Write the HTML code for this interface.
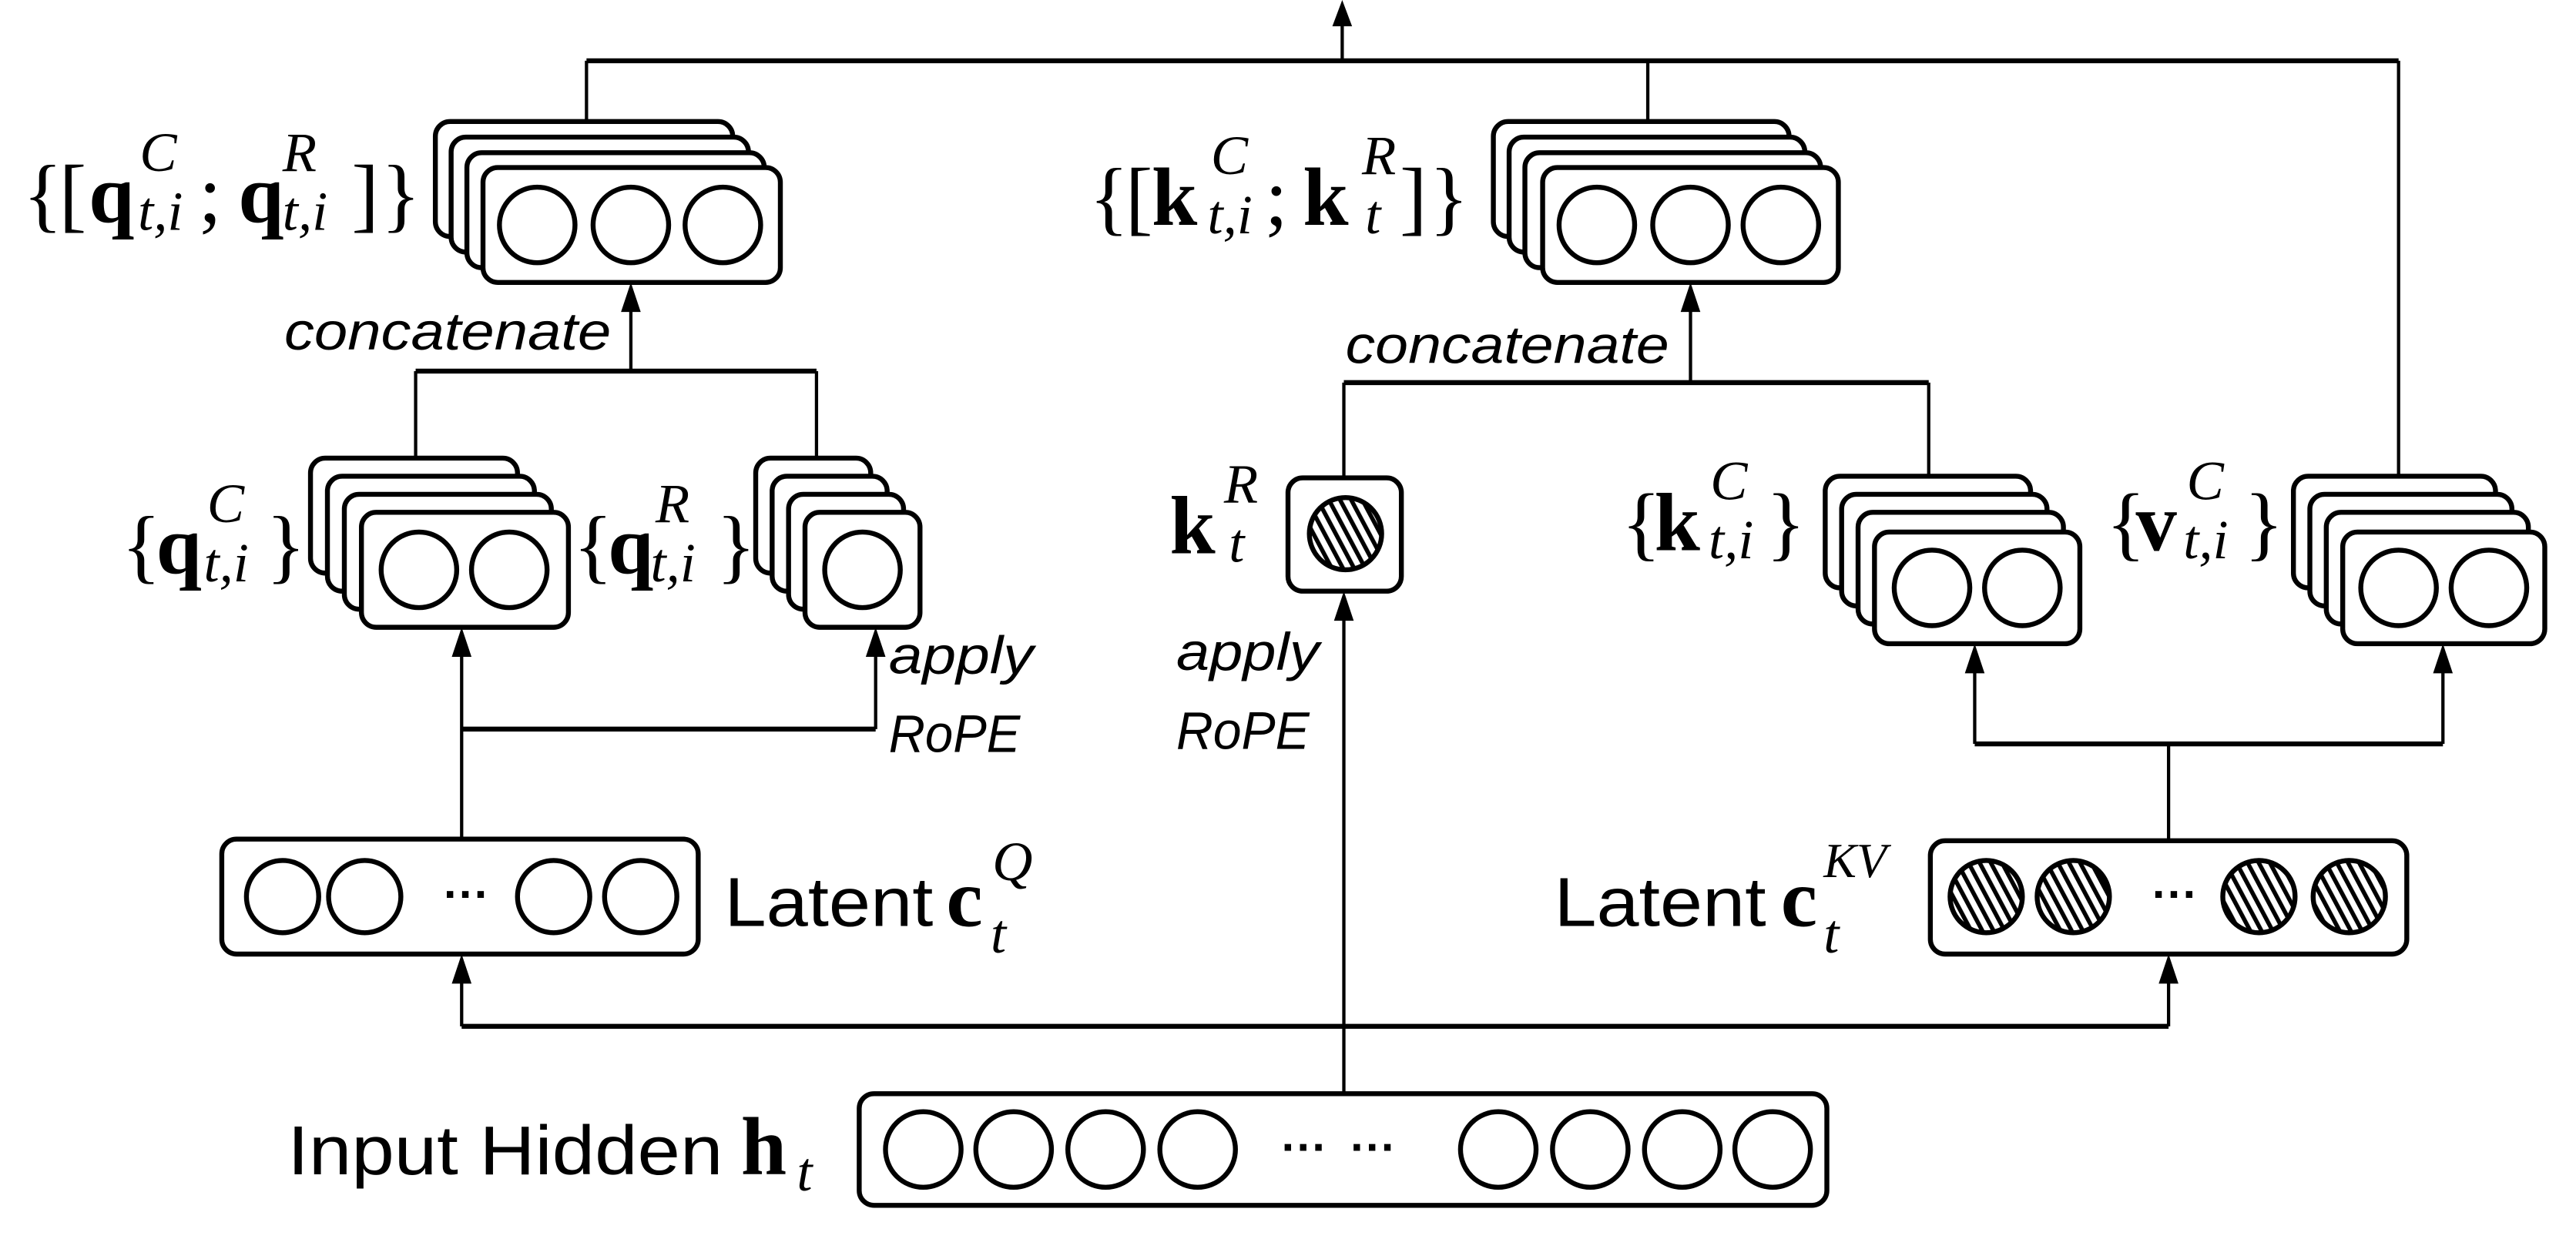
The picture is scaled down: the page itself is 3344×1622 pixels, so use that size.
<!DOCTYPE html>
<html><head><meta charset="utf-8"><style>
html,body{margin:0;padding:0;background:#fff;}
svg{display:block;}
.s{font-family:"Liberation Sans","DejaVu Sans",sans-serif;}
.m{font-family:"Liberation Serif","DejaVu Serif",serif;}
.b{font-weight:bold;}
.i{font-style:italic;}
</style></head><body>
<svg width="3344" height="1622" viewBox="0 0 1568 760.6" preserveAspectRatio="none" xmlns="http://www.w3.org/2000/svg">
<defs>
<pattern id="h" width="6" height="6" patternUnits="userSpaceOnUse" patternTransform="rotate(-28)">
<rect width="6" height="6" fill="#fff"/><rect width="2.6" height="6" fill="#000"/></pattern>
</defs>
<g fill="none" stroke="#000" stroke-width="2">
<line x1="817" y1="37" x2="817" y2="14"/>
<line x1="357" y1="37" x2="1460" y2="37" stroke-width="3"/>
<line x1="357" y1="37" x2="357" y2="75"/>
<line x1="1003" y1="37" x2="1003" y2="75"/>
<line x1="1460" y1="37" x2="1460" y2="292"/>
<line x1="384" y1="226" x2="384" y2="188"/>
<line x1="253" y1="226" x2="497" y2="226" stroke-width="3"/>
<line x1="253" y1="226" x2="253" y2="281"/>
<line x1="497" y1="226" x2="497" y2="281"/>
<line x1="1029" y1="233" x2="1029" y2="188"/>
<line x1="818" y1="233" x2="1174" y2="233" stroke-width="3"/>
<line x1="818" y1="233" x2="818" y2="291"/>
<line x1="1174" y1="233" x2="1174" y2="291"/>
<line x1="281" y1="511" x2="281" y2="398"/>
<line x1="281" y1="444" x2="533" y2="444" stroke-width="3"/>
<line x1="533" y1="444" x2="533" y2="398"/>
<line x1="818" y1="666" x2="818" y2="376"/>
<line x1="281" y1="625" x2="1320" y2="625" stroke-width="3"/>
<line x1="281" y1="625" x2="281" y2="597"/>
<line x1="1320" y1="625" x2="1320" y2="597"/>
<line x1="1320" y1="512" x2="1320" y2="453"/>
<line x1="1202" y1="453" x2="1487" y2="453" stroke-width="3"/>
<line x1="1202" y1="453" x2="1202" y2="408"/>
<line x1="1487" y1="453" x2="1487" y2="408"/>
</g>
<g fill="#000">
<polygon points="817,0 811,16 823,16"/>
<polygon points="384,172 378,190 390,190"/>
<polygon points="1029,172 1023,190 1035,190"/>
<polygon points="281,382 275,400 287,400"/>
<polygon points="533,382 527,400 539,400"/>
<polygon points="818,360 812,378 824,378"/>
<polygon points="281,581 275,599 287,599"/>
<polygon points="1320,581 1314,599 1326,599"/>
<polygon points="1202,392 1196,410 1208,410"/>
<polygon points="1487,392 1481,410 1493,410"/>
</g>
<g fill="#fff" stroke="#000" stroke-width="3">
<rect x="265" y="74" width="181" height="70" rx="9"/>
<rect x="274.6" y="83.5" width="181" height="70" rx="9"/>
<rect x="284.2" y="93" width="181" height="70" rx="9"/>
<rect x="294" y="102" width="181" height="70" rx="9"/>
<circle cx="327" cy="137" r="23"/><circle cx="384" cy="137" r="23"/><circle cx="440" cy="137" r="23"/>
<rect x="909" y="74" width="180" height="70" rx="9"/>
<rect x="918.6" y="83.5" width="180" height="70" rx="9"/>
<rect x="928.2" y="93" width="180" height="70" rx="9"/>
<rect x="939" y="102" width="180" height="70" rx="9"/>
<circle cx="972" cy="137" r="23"/><circle cx="1029" cy="137" r="23"/><circle cx="1084" cy="137" r="23"/>
<rect x="189" y="279" width="126" height="70" rx="9"/>
<rect x="199.3" y="290" width="126" height="70" rx="9"/>
<rect x="209.6" y="301" width="126" height="70" rx="9"/>
<rect x="220" y="312" width="126" height="70" rx="9"/>
<circle cx="255" cy="347" r="23"/><circle cx="310" cy="347" r="23"/>
<rect x="460" y="279" width="70" height="70" rx="9"/>
<rect x="470" y="290" width="70" height="70" rx="9"/>
<rect x="480" y="301" width="70" height="70" rx="9"/>
<rect x="490" y="312" width="70" height="70" rx="9"/>
<circle cx="525" cy="347" r="23"/>
<rect x="784" y="291" width="69" height="69" rx="9"/>
<circle cx="819" cy="325" r="22" fill="url(#h)"/>
<rect x="1111" y="290" width="125" height="68" rx="9"/>
<rect x="1121" y="301" width="125" height="68" rx="9"/>
<rect x="1131" y="312" width="125" height="68" rx="9"/>
<rect x="1141" y="324" width="125" height="68" rx="9"/>
<circle cx="1176" cy="358" r="23"/><circle cx="1231" cy="358" r="23"/>
<rect x="1396" y="290" width="123" height="68" rx="9"/>
<rect x="1406" y="301" width="123" height="68" rx="9"/>
<rect x="1416" y="312" width="123" height="68" rx="9"/>
<rect x="1426" y="324" width="123" height="68" rx="9"/>
<circle cx="1460" cy="358" r="23"/><circle cx="1515" cy="358" r="23"/>
<rect x="135" y="511" width="290" height="70" rx="9"/>
<circle cx="172" cy="546" r="22"/><circle cx="222" cy="546" r="22"/>
<circle cx="337" cy="546" r="22"/><circle cx="390" cy="546" r="22"/>
<rect x="1175" y="512" width="290" height="69" rx="9"/>
<g fill="url(#h)">
<circle cx="1209" cy="546" r="22"/><circle cx="1262" cy="546" r="22"/>
<circle cx="1375" cy="546" r="22"/><circle cx="1430" cy="546" r="22"/></g>
<rect x="523" y="666" width="589" height="68" rx="9"/>
<circle cx="562" cy="700" r="23"/><circle cx="617" cy="700" r="23"/><circle cx="673" cy="700" r="23"/><circle cx="729" cy="700" r="23"/>
<circle cx="912" cy="700" r="23"/><circle cx="968" cy="700" r="23"/><circle cx="1024" cy="700" r="23"/><circle cx="1079" cy="700" r="23"/>
</g>
<g class="s b" font-size="28" fill="#000">
<text x="270" y="554">···</text>
<text x="1310" y="554">···</text>
<text x="780" y="708">···</text>
<text x="822" y="708">···</text>
</g>
<g class="s i" font-size="32" fill="#000">
<text x="173" y="213" textLength="199" lengthAdjust="spacingAndGlyphs">concatenate</text>
<text x="819" y="221" textLength="197" lengthAdjust="spacingAndGlyphs">concatenate</text>
<text x="541" y="410" textLength="88" lengthAdjust="spacingAndGlyphs">apply</text>
<text x="541" y="458" textLength="80" lengthAdjust="spacingAndGlyphs">RoPE</text>
<text x="716" y="408" textLength="87" lengthAdjust="spacingAndGlyphs">apply</text>
<text x="716" y="456" textLength="81" lengthAdjust="spacingAndGlyphs">RoPE</text>
</g>
<g class="s" font-size="42" fill="#000">
<text x="441" y="564" textLength="127" lengthAdjust="spacingAndGlyphs">Latent</text>
<text x="946" y="564" textLength="129" lengthAdjust="spacingAndGlyphs">Latent</text>
<text x="175" y="715" textLength="265" lengthAdjust="spacingAndGlyphs">Input Hidden</text>
</g>
<g class="m" fill="#000" font-size="50">
<text x="14" y="135">{</text><text x="36" y="135">[</text>
<text x="54" y="135" class="b">q</text>
<text x="85" y="104" class="i" font-size="34">C</text>
<text x="84" y="140" class="i" font-size="34">t,i</text>
<text x="121" y="135">;</text>
<text x="145" y="135" class="b">q</text>
<text x="172" y="104" class="i" font-size="34">R</text>
<text x="172" y="140" class="i" font-size="34">t,i</text>
<text x="214" y="135">]</text><text x="232" y="135">}</text>

<text x="663" y="137">{</text><text x="685" y="137">[</text>
<text x="701" y="137" class="b">k</text>
<text x="737" y="106" class="i" font-size="34">C</text>
<text x="735" y="142" class="i" font-size="34">t,i</text>
<text x="770" y="137">;</text>
<text x="793" y="137" class="b">k</text>
<text x="829" y="106" class="i" font-size="34">R</text>
<text x="831" y="142" class="i" font-size="34">t</text>
<text x="852" y="137">]</text><text x="870" y="137">}</text>

<text x="74" y="349">{</text>
<text x="95" y="349" class="b">q</text>
<text x="126" y="318" class="i" font-size="34">C</text>
<text x="124" y="354" class="i" font-size="34">t,i</text>
<text x="162" y="349">}</text>

<text x="349" y="349">{</text>
<text x="370" y="349" class="b">q</text>
<text x="399" y="318" class="i" font-size="34">R</text>
<text x="396" y="354" class="i" font-size="34">t,i</text>
<text x="436" y="349">}</text>

<text x="712" y="337" class="b">k</text>
<text x="745" y="306" class="i" font-size="34">R</text>
<text x="748" y="342" class="i" font-size="34">t</text>

<text x="987" y="335">{</text>
<text x="1007" y="335" class="b">k</text>
<text x="1041" y="304" class="i" font-size="34">C</text>
<text x="1040" y="340" class="i" font-size="34">t,i</text>
<text x="1075" y="335">}</text>

<text x="1282" y="335">{</text>
<text x="1300" y="335" class="b">v</text>
<text x="1331" y="304" class="i" font-size="34">C</text>
<text x="1329" y="340" class="i" font-size="34">t,i</text>
<text x="1366" y="335">}</text>

<text x="576" y="564" class="b">c</text>
<text x="604" y="536" class="i" font-size="34">Q</text>
<text x="603" y="580" class="i" font-size="34">t</text>

<text x="1084" y="564" class="b">c</text>
<text x="1110" y="534" class="i" font-size="30">KV</text>
<text x="1110" y="580" class="i" font-size="34">t</text>

<text x="451" y="715" class="b">h</text>
<text x="485" y="725" class="i" font-size="34">t</text>
</g>
</svg>
</body></html>
